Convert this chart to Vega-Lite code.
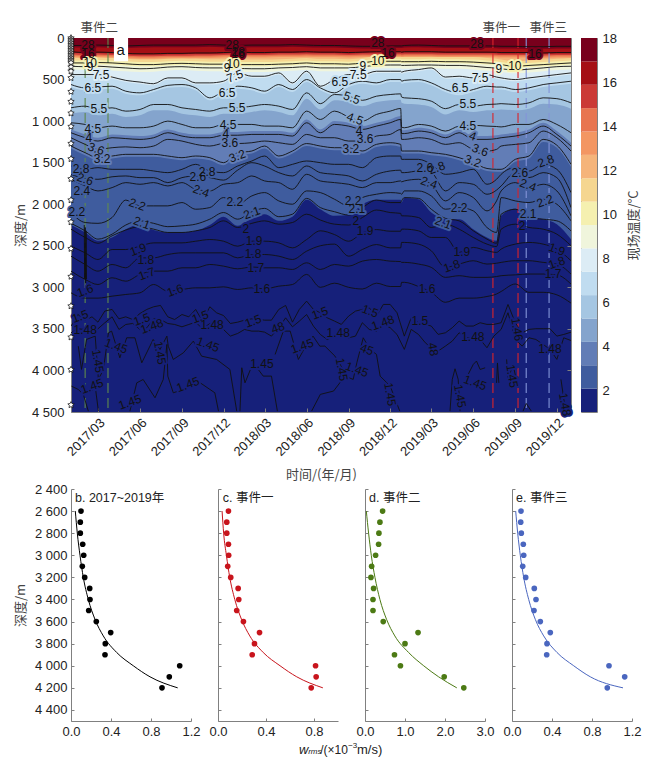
{
"$schema":"https://vega.github.io/schema/vega-lite/v6.json",
"background":"white",
"padding":{"left":13,"top":21,"right":5,"bottom":5},
"config":{"font":"Liberation Sans, Noto Sans CJK SC","view":{"stroke":null},"axis":{"grid":false,"labelFlush":false,"labelOverlap":false,"domainColor":"#808080","tickColor":"#808080","labelColor":"#222222","titleColor":"#444444","labelFontSize":13,"titleFontSize":13,"titleFontWeight":"normal","labelFont":"Liberation Sans","titleFont":"Noto Sans CJK SC"},"text":{"font":"Liberation Sans, Noto Sans CJK SC"}},
"datasets":{
"isotherms":[
{"d":"2017-01-01","w18":90,"w16":165,"w10":300,"w9":340,"w75":440,"w65":560,"w55":840,"w45":1020,"w40":1140,"w36":1200,"w32":1300,"w28":1540,"w26":1640,"w24":1700,"w22":2100,"w21":2230,"w20":2300,"c19":2505,"c18":2625,"c17":2805,"c16":3066},
{"d":"2017-02-01","w18":90,"w16":175,"w10":300,"w9":345,"w75":440,"w65":600,"w55":820,"w45":1040,"w40":1200,"w36":1280,"w32":1380,"w28":1580,"w26":1690,"w24":1780,"w22":2220,"w21":2320,"w20":2400,"c19":2585,"c18":2725,"c17":2905,"c16":3130},
{"d":"2017-03-01","w18":85,"w16":170,"w10":295,"w9":340,"w75":440,"w65":590,"w55":860,"w45":1080,"w40":1240,"w36":1340,"w32":1440,"w28":1560,"w26":1700,"w24":1840,"w22":2230,"w21":2420,"w20":2470,"c19":2665,"c18":2805,"c17":2966,"c16":3130},
{"d":"2017-04-01","w18":90,"w16":175,"w10":300,"w9":350,"w75":470,"w65":580,"w55":840,"w45":1060,"w40":1200,"w36":1320,"w32":1420,"w28":1580,"w26":1670,"w24":1800,"w22":2160,"w21":2360,"w20":2380,"c19":2545,"c18":2725,"c17":2885,"c16":3106},
{"d":"2017-05-01","w18":95,"w16":185,"w10":310,"w9":360,"w75":510,"w65":640,"w55":880,"w45":1080,"w40":1210,"w36":1310,"w32":1400,"w28":1580,"w26":1660,"w24":1740,"w22":1950,"w21":2250,"w20":2310,"c19":2545,"c18":2765,"c17":2926,"c16":3086},
{"d":"2017-06-01","w18":90,"w16":190,"w10":320,"w9":370,"w75":530,"w65":660,"w55":860,"w45":1080,"w40":1220,"w36":1320,"w32":1400,"w28":1580,"w26":1680,"w24":1760,"w22":2020,"w21":2200,"w20":2270,"c19":2505,"c18":2645,"c17":2845,"c16":3066},
{"d":"2017-07-01","w18":85,"w16":190,"w10":320,"w9":365,"w75":550,"w65":620,"w55":800,"w45":1060,"w40":1200,"w36":1300,"w32":1400,"w28":1600,"w26":1680,"w24":1740,"w22":2020,"w21":2230,"w20":2300,"c19":2465,"c18":2645,"c17":2805,"c16":2966},
{"d":"2017-08-01","w18":85,"w16":185,"w10":310,"w9":350,"w75":480,"w65":570,"w55":800,"w45":1000,"w40":1140,"w36":1220,"w32":1420,"w28":1620,"w26":1740,"w24":1780,"w22":2020,"w21":2270,"w20":2340,"c19":2465,"c18":2605,"c17":2805,"c16":3046},
{"d":"2017-09-01","w18":85,"w16":185,"w10":305,"w9":345,"w75":480,"w65":560,"w55":840,"w45":1040,"w40":1180,"w36":1240,"w32":1440,"w28":1580,"w26":1680,"w24":1740,"w22":1980,"w21":2260,"w20":2340,"c19":2465,"c18":2585,"c17":2765,"c16":3026},
{"d":"2017-10-01","w18":85,"w16":180,"w10":310,"w9":355,"w75":540,"w65":600,"w55":860,"w45":1080,"w40":1200,"w36":1280,"w32":1420,"w28":1520,"w26":1660,"w24":1820,"w22":2060,"w21":2240,"w20":2320,"c19":2445,"c18":2585,"c17":2765,"c16":3006},
{"d":"2017-11-01","w18":80,"w16":180,"w10":315,"w9":360,"w75":540,"w65":720,"w55":880,"w45":1080,"w40":1200,"w36":1300,"w32":1440,"w28":1600,"w26":1680,"w24":1840,"w22":2040,"w21":2180,"w20":2280,"c19":2425,"c18":2585,"c17":2725,"c16":3006},
{"d":"2017-12-01","w18":85,"w16":175,"w10":315,"w9":360,"w75":520,"w65":640,"w55":840,"w45":1040,"w40":1170,"w36":1270,"w32":1500,"w28":1620,"w26":1710,"w24":1760,"w22":1920,"w21":2100,"w20":2200,"c19":2445,"c18":2585,"c17":2745,"c16":2994},
{"d":"2018-01-01","w18":90,"w16":170,"w10":320,"w9":365,"w75":420,"w65":580,"w55":840,"w45":1040,"w40":1170,"w36":1270,"w32":1380,"w28":1540,"w26":1590,"w24":1740,"w22":2000,"w21":2180,"w20":2280,"c19":2505,"c18":2645,"c17":2777,"c16":3026},
{"d":"2018-02-01","w18":85,"w16":175,"w10":320,"w9":370,"w75":460,"w65":600,"w55":820,"w45":1040,"w40":1160,"w36":1260,"w32":1360,"w28":1480,"w26":1500,"w24":1660,"w22":1900,"w21":2090,"w20":2230,"c19":2445,"c18":2605,"c17":2755,"c16":3006},
{"d":"2018-03-01","w18":85,"w16":175,"w10":320,"w9":370,"w75":460,"w65":640,"w55":800,"w45":1060,"w40":1160,"w36":1240,"w32":1300,"w28":1420,"w26":1540,"w24":1720,"w22":1860,"w21":2050,"w20":2200,"c19":2445,"c18":2605,"c17":2765,"c16":3018},
{"d":"2018-04-01","w18":85,"w16":170,"w10":315,"w9":360,"w75":420,"w65":560,"w55":820,"w45":1060,"w40":1160,"w36":1260,"w32":1420,"w28":1560,"w26":1620,"w24":1740,"w22":1960,"w21":2150,"w20":2240,"c19":2465,"c18":2625,"c17":2765,"c16":2986},
{"d":"2018-05-01","w18":80,"w16":170,"w10":310,"w9":355,"w75":540,"w65":620,"w55":860,"w45":1080,"w40":1180,"w36":1280,"w32":1360,"w28":1520,"w26":1660,"w24":1820,"w22":2000,"w21":2120,"w20":2220,"c19":2525,"c18":2665,"c17":2785,"c16":2966},
{"d":"2018-06-01","w18":85,"w16":165,"w10":300,"w9":345,"w75":400,"w65":500,"w55":660,"w45":880,"w40":1020,"w36":1160,"w32":1270,"w28":1480,"w26":1540,"w24":1640,"w22":1840,"w21":1930,"w20":2120,"c19":2425,"c18":2565,"c17":2705,"c16":2845},
{"d":"2018-07-01","w18":90,"w16":170,"w10":310,"w9":360,"w75":580,"w65":600,"w55":790,"w45":980,"w40":1140,"w36":1200,"w32":1300,"w28":1500,"w26":1620,"w24":1720,"w22":1860,"w21":2040,"w20":2190,"c19":2320,"c18":2500,"c17":2785,"c16":3000},
{"d":"2018-08-01","w18":90,"w16":170,"w10":310,"w9":360,"w75":500,"w65":660,"w55":680,"w45":880,"w40":1040,"w36":1200,"w32":1320,"w28":1520,"w26":1640,"w24":1740,"w22":1940,"w21":2090,"w20":2240,"c19":2365,"c18":2480,"c17":2725,"c16":2950},
{"d":"2018-09-01","w18":95,"w16":175,"w10":315,"w9":360,"w75":440,"w65":560,"w55":700,"w45":950,"w40":1060,"w36":1240,"w32":1320,"w28":1520,"w26":1660,"w24":1760,"w22":2020,"w21":2130,"w20":2250,"c19":2445,"c18":2625,"c17":2745,"c16":3000},
{"d":"2018-10-01","w18":100,"w16":170,"w10":300,"w9":345,"w75":440,"w65":520,"w55":750,"w45":1000,"w40":1100,"w36":1240,"w32":1360,"w28":1560,"w26":1720,"w24":1800,"w22":1920,"w21":2040,"w20":2160,"c19":2345,"c18":2545,"c17":2685,"c16":3020},
{"d":"2018-11-01","w18":100,"w16":165,"w10":280,"w9":330,"w75":400,"w65":540,"w55":700,"w45":920,"w40":1060,"w36":1180,"w32":1280,"w28":1440,"w26":1640,"w24":1740,"w22":1880,"w21":1950,"w20":2070,"c19":2305,"c18":2485,"c17":2665,"c16":2950},
{"d":"2018-12-01","w18":95,"w16":165,"w10":280,"w9":325,"w75":400,"w65":500,"w55":680,"w45":880,"w40":1020,"w36":1160,"w32":1260,"w28":1420,"w26":1600,"w24":1740,"w22":1860,"w21":1980,"w20":2100,"c19":2325,"c18":2525,"c17":2685,"c16":2990},
{"d":"2018-12-24","w18":95,"w16":165,"w10":280,"w9":325,"w75":400,"w65":500,"w55":672,"w45":848,"w40":980,"w36":1100,"w32":1280,"w28":1420,"w26":1590,"w24":1720,"w22":1870,"w21":1980,"w20":2110,"c19":2325,"c18":2525,"c17":2690,"c16":2990},
{"d":"2018-12-26","w18":95,"w16":170,"w10":285,"w9":330,"w75":410,"w65":520,"w55":710,"w45":1072,"w40":1150,"w36":1220,"w32":1360,"w28":1460,"w26":1620,"w24":1730,"w22":1880,"w21":1960,"w20":2140,"c19":2300,"c18":2460,"c17":2700,"c16":2940},
{"d":"2019-01-01","w18":90,"w16":165,"w10":285,"w9":330,"w75":400,"w65":510,"w55":720,"w45":1080,"w40":1150,"w36":1220,"w32":1360,"w28":1460,"w26":1620,"w24":1720,"w22":1840,"w21":1920,"w20":2140,"c19":2300,"c18":2460,"c17":2700,"c16":2940},
{"d":"2019-02-01","w18":85,"w16":165,"w10":285,"w9":325,"w75":380,"w65":500,"w55":730,"w45":1040,"w40":1120,"w36":1200,"w32":1360,"w28":1460,"w26":1600,"w24":1700,"w22":1840,"w21":1930,"w20":2160,"c19":2320,"c18":2480,"c17":2720,"c16":2990},
{"d":"2019-03-01","w18":90,"w16":165,"w10":280,"w9":325,"w75":360,"w65":540,"w55":760,"w45":1060,"w40":1140,"w36":1220,"w32":1380,"w28":1520,"w26":1620,"w24":1760,"w22":1900,"w21":2060,"w20":2280,"c19":2400,"c18":2560,"c17":2760,"c16":3060},
{"d":"2019-04-01","w18":95,"w16":170,"w10":285,"w9":330,"w75":470,"w65":620,"w55":850,"w45":1120,"w40":1200,"w36":1280,"w32":1400,"w28":1640,"w26":1840,"w24":1960,"w22":2060,"w21":2170,"w20":2240,"c19":2400,"c18":2760,"c17":2880,"c16":3180},
{"d":"2019-05-01","w18":95,"w16":170,"w10":285,"w9":330,"w75":460,"w65":660,"w55":800,"w45":1060,"w40":1140,"w36":1260,"w32":1440,"w28":1620,"w26":1740,"w24":1860,"w22":2040,"w21":2200,"w20":2300,"c19":2580,"c18":2720,"c17":2860,"c16":3130},
{"d":"2019-06-01","w18":95,"w16":170,"w10":290,"w9":340,"w75":480,"w65":620,"w55":820,"w45":1050,"w40":1220,"w36":1340,"w32":1500,"w28":1580,"w26":1760,"w24":1920,"w22":2080,"w21":2320,"w20":2400,"c19":2520,"c18":2680,"c17":2880,"c16":3130},
{"d":"2019-07-01","w18":95,"w16":170,"w10":300,"w9":355,"w75":440,"w65":580,"w55":800,"w45":1060,"w40":1220,"w36":1360,"w32":1570,"w28":1760,"w26":1880,"w24":2080,"w22":2280,"w21":2420,"w20":2480,"c19":2560,"c18":2720,"c17":2880,"c16":3110},
{"d":"2019-07-22","w18":97,"w16":172,"w10":310,"w9":362,"w75":470,"w65":590,"w55":795,"w45":1065,"w40":1210,"w36":1340,"w32":1580,"w28":1700,"w26":1830,"w24":1960,"w22":2340,"w21":2470,"w20":2510,"c19":2580,"c18":2710,"c17":2870,"c16":3080},
{"d":"2019-08-01","w18":100,"w16":175,"w10":320,"w9":370,"w75":480,"w65":590,"w55":790,"w45":1070,"w40":1200,"w36":1300,"w32":1580,"w28":1640,"w26":1780,"w24":1840,"w22":1920,"w21":2120,"w20":2300,"c19":2540,"c18":2700,"c17":2860,"c16":3050},
{"d":"2019-09-01","w18":100,"w16":175,"w10":340,"w9":385,"w75":500,"w65":620,"w55":800,"w45":1040,"w40":1180,"w36":1280,"w32":1460,"w28":1560,"w26":1620,"w24":1740,"w22":1960,"w21":2060,"w20":2240,"c19":2480,"c18":2680,"c17":2850,"c16":2960},
{"d":"2019-10-01","w18":105,"w16":175,"w10":330,"w9":375,"w75":480,"w65":600,"w55":780,"w45":1040,"w40":1140,"w36":1260,"w32":1420,"w28":1600,"w26":1680,"w24":1800,"w22":1980,"w21":2160,"w20":2280,"c19":2460,"c18":2680,"c17":2840,"c16":3060},
{"d":"2019-11-01","w18":105,"w16":180,"w10":320,"w9":360,"w75":460,"w65":560,"w55":720,"w45":980,"w40":1060,"w36":1120,"w32":1220,"w28":1520,"w26":1620,"w24":1760,"w22":1940,"w21":2180,"w20":2300,"c19":2480,"c18":2700,"c17":2840,"c16":3060},
{"d":"2019-12-01","w18":100,"w16":175,"w10":310,"w9":345,"w75":440,"w65":540,"w55":730,"w45":1040,"w40":1160,"w36":1200,"w32":1290,"w28":1580,"w26":1680,"w24":1840,"w22":2000,"w21":2200,"w20":2360,"c19":2540,"c18":2720,"c17":2850,"c16":3090},
{"d":"2020-01-01","w18":100,"w16":175,"w10":300,"w9":340,"w75":420,"w65":520,"w55":780,"w45":1140,"w40":1300,"w36":1360,"w32":1520,"w28":1860,"w26":2040,"w24":2140,"w22":2200,"w21":2320,"w20":2500,"c19":2680,"c18":2840,"c17":2960,"c16":3190}
],
"bands":[
{"d":"2017-01-01","b2":2250,"b3":1330,"b4":1100,"b5":910,"b6":590,"b7":460,"b8":380,"b9":320,"b10":270,"b11":240,"b12":225,"b13":210,"b14":195,"b15":175,"b16":115},
{"d":"2017-02-01","b2":2340,"b3":1410,"b4":1160,"b5":890,"b6":630,"b7":460,"b8":385,"b9":320,"b10":270,"b11":240,"b12":235,"b13":220,"b14":205,"b15":185,"b16":115},
{"d":"2017-03-01","b2":2440,"b3":1470,"b4":1200,"b5":930,"b6":620,"b7":460,"b8":380,"b9":315,"b10":265,"b11":235,"b12":230,"b13":215,"b14":200,"b15":180,"b16":110},
{"d":"2017-04-01","b2":2400,"b3":1450,"b4":1160,"b5":910,"b6":610,"b7":490,"b8":390,"b9":320,"b10":270,"b11":240,"b12":235,"b13":220,"b14":205,"b15":185,"b16":115},
{"d":"2017-05-01","b2":2300,"b3":1430,"b4":1170,"b5":950,"b6":670,"b7":530,"b8":400,"b9":330,"b10":280,"b11":250,"b12":245,"b13":230,"b14":215,"b15":195,"b16":120},
{"d":"2017-06-01","b2":2240,"b3":1430,"b4":1180,"b5":930,"b6":690,"b7":550,"b8":410,"b9":340,"b10":290,"b11":260,"b12":250,"b13":235,"b14":220,"b15":200,"b16":115},
{"d":"2017-07-01","b2":2310,"b3":1430,"b4":1160,"b5":870,"b6":650,"b7":570,"b8":405,"b9":340,"b10":290,"b11":260,"b12":250,"b13":235,"b14":220,"b15":200,"b16":110},
{"d":"2017-08-01","b2":2340,"b3":1450,"b4":1100,"b5":870,"b6":600,"b7":500,"b8":390,"b9":330,"b10":280,"b11":250,"b12":245,"b13":230,"b14":215,"b15":195,"b16":110},
{"d":"2017-09-01","b2":2340,"b3":1470,"b4":1140,"b5":910,"b6":590,"b7":500,"b8":385,"b9":325,"b10":275,"b11":245,"b12":245,"b13":230,"b14":215,"b15":195,"b16":110},
{"d":"2017-10-01","b2":2320,"b3":1450,"b4":1160,"b5":930,"b6":630,"b7":560,"b8":395,"b9":330,"b10":280,"b11":250,"b12":240,"b13":225,"b14":210,"b15":190,"b16":110},
{"d":"2017-11-01","b2":2250,"b3":1470,"b4":1160,"b5":950,"b6":750,"b7":560,"b8":400,"b9":335,"b10":285,"b11":255,"b12":240,"b13":225,"b14":210,"b15":190,"b16":105},
{"d":"2017-12-01","b2":2150,"b3":1530,"b4":1130,"b5":910,"b6":670,"b7":540,"b8":400,"b9":335,"b10":285,"b11":255,"b12":235,"b13":220,"b14":205,"b15":185,"b16":110},
{"d":"2018-01-01","b2":2260,"b3":1410,"b4":1130,"b5":910,"b6":610,"b7":440,"b8":405,"b9":340,"b10":290,"b11":260,"b12":230,"b13":215,"b14":200,"b15":180,"b16":115},
{"d":"2018-02-01","b2":2170,"b3":1390,"b4":1120,"b5":890,"b6":630,"b7":480,"b8":410,"b9":340,"b10":290,"b11":260,"b12":235,"b13":220,"b14":205,"b15":185,"b16":110},
{"d":"2018-03-01","b2":2120,"b3":1330,"b4":1120,"b5":870,"b6":670,"b7":480,"b8":410,"b9":340,"b10":290,"b11":260,"b12":235,"b13":220,"b14":205,"b15":185,"b16":110},
{"d":"2018-04-01","b2":2200,"b3":1450,"b4":1120,"b5":890,"b6":590,"b7":440,"b8":400,"b9":335,"b10":285,"b11":255,"b12":230,"b13":215,"b14":200,"b15":180,"b16":110},
{"d":"2018-05-01","b2":2150,"b3":1390,"b4":1140,"b5":930,"b6":650,"b7":560,"b8":395,"b9":330,"b10":280,"b11":250,"b12":230,"b13":215,"b14":200,"b15":180,"b16":105},
{"d":"2018-06-01","b2":1945,"b3":1300,"b4":980,"b5":730,"b6":530,"b7":420,"b8":385,"b9":320,"b10":270,"b11":240,"b12":225,"b13":210,"b14":195,"b15":175,"b16":110},
{"d":"2018-07-01","b2":2060,"b3":1330,"b4":1100,"b5":860,"b6":630,"b7":600,"b8":400,"b9":330,"b10":280,"b11":250,"b12":230,"b13":215,"b14":200,"b15":180,"b16":115},
{"d":"2018-08-01","b2":2140,"b3":1350,"b4":1000,"b5":750,"b6":690,"b7":520,"b8":400,"b9":330,"b10":280,"b11":250,"b12":230,"b13":215,"b14":200,"b15":180,"b16":115},
{"d":"2018-09-01","b2":2130,"b3":1350,"b4":1020,"b5":770,"b6":590,"b7":460,"b8":400,"b9":335,"b10":285,"b11":255,"b12":235,"b13":220,"b14":205,"b15":185,"b16":120},
{"d":"2018-10-01","b2":2000,"b3":1390,"b4":1060,"b5":820,"b6":550,"b7":460,"b8":385,"b9":320,"b10":270,"b11":240,"b12":230,"b13":215,"b14":200,"b15":180,"b16":125},
{"d":"2018-11-01","b2":1945,"b3":1310,"b4":1020,"b5":770,"b6":570,"b7":420,"b8":370,"b9":300,"b10":250,"b11":220,"b12":225,"b13":210,"b14":195,"b15":175,"b16":125},
{"d":"2018-12-01","b2":1945,"b3":1290,"b4":980,"b5":750,"b6":530,"b7":420,"b8":365,"b9":300,"b10":250,"b11":220,"b12":225,"b13":210,"b14":195,"b15":175,"b16":120},
{"d":"2018-12-24","b2":1945,"b3":1310,"b4":940,"b5":742,"b6":530,"b7":420,"b8":365,"b9":300,"b10":250,"b11":220,"b12":225,"b13":210,"b14":195,"b15":175,"b16":120},
{"d":"2018-12-26","b2":1980,"b3":1390,"b4":1110,"b5":780,"b6":550,"b7":430,"b8":370,"b9":305,"b10":255,"b11":225,"b12":230,"b13":215,"b14":200,"b15":180,"b16":120},
{"d":"2019-01-01","b2":1925,"b3":1390,"b4":1110,"b5":790,"b6":540,"b7":420,"b8":370,"b9":305,"b10":255,"b11":225,"b12":225,"b13":210,"b14":195,"b15":175,"b16":115},
{"d":"2019-02-01","b2":1940,"b3":1390,"b4":1080,"b5":800,"b6":530,"b7":400,"b8":365,"b9":305,"b10":255,"b11":225,"b12":225,"b13":210,"b14":195,"b15":175,"b16":110},
{"d":"2019-03-01","b2":2100,"b3":1410,"b4":1100,"b5":830,"b6":570,"b7":380,"b8":365,"b9":300,"b10":250,"b11":220,"b12":225,"b13":210,"b14":195,"b15":175,"b16":115},
{"d":"2019-04-01","b2":2180,"b3":1430,"b4":1160,"b5":920,"b6":650,"b7":490,"b8":370,"b9":305,"b10":255,"b11":225,"b12":230,"b13":215,"b14":200,"b15":180,"b16":120},
{"d":"2019-05-01","b2":2180,"b3":1470,"b4":1100,"b5":870,"b6":690,"b7":480,"b8":370,"b9":305,"b10":255,"b11":225,"b12":230,"b13":215,"b14":200,"b15":180,"b16":120},
{"d":"2019-06-01","b2":2300,"b3":1530,"b4":1180,"b5":890,"b6":650,"b7":500,"b8":380,"b9":310,"b10":260,"b11":230,"b12":230,"b13":215,"b14":200,"b15":180,"b16":120},
{"d":"2019-07-01","b2":2400,"b3":1600,"b4":1180,"b5":870,"b6":610,"b7":460,"b8":395,"b9":320,"b10":270,"b11":240,"b12":230,"b13":215,"b14":200,"b15":180,"b16":120},
{"d":"2019-07-22","b2":2440,"b3":1610,"b4":1170,"b5":865,"b6":620,"b7":490,"b8":400,"b9":330,"b10":280,"b11":250,"b12":232,"b13":217,"b14":202,"b15":182,"b16":122},
{"d":"2019-08-01","b2":2140,"b3":1610,"b4":1160,"b5":860,"b6":620,"b7":500,"b8":410,"b9":340,"b10":290,"b11":260,"b12":235,"b13":220,"b14":205,"b15":185,"b16":125},
{"d":"2019-09-01","b2":2055,"b3":1490,"b4":1140,"b5":870,"b6":650,"b7":520,"b8":425,"b9":360,"b10":310,"b11":280,"b12":235,"b13":220,"b14":205,"b15":185,"b16":125},
{"d":"2019-10-01","b2":2160,"b3":1450,"b4":1100,"b5":850,"b6":630,"b7":500,"b8":415,"b9":350,"b10":300,"b11":270,"b12":235,"b13":220,"b14":205,"b15":185,"b16":130},
{"d":"2019-11-01","b2":2180,"b3":1250,"b4":1020,"b5":790,"b6":590,"b7":480,"b8":400,"b9":340,"b10":290,"b11":260,"b12":240,"b13":225,"b14":210,"b15":190,"b16":130},
{"d":"2019-12-01","b2":2240,"b3":1320,"b4":1120,"b5":800,"b6":570,"b7":460,"b8":385,"b9":330,"b10":280,"b11":250,"b12":235,"b13":220,"b14":205,"b15":185,"b16":125},
{"d":"2020-01-01","b2":2420,"b3":1550,"b4":1260,"b5":850,"b6":550,"b7":440,"b8":380,"b9":320,"b10":270,"b11":240,"b12":235,"b13":220,"b14":205,"b15":185,"b16":125}
],
"deep":[
{"d":"2017-01-01","c15":3467,"c148":3547},{"d":"2017-01-16","c15":3327,"c148":3499},{"d":"2017-02-01","c15":3395,"c148":3507},{"d":"2017-02-16","c15":3355,"c148":3527},{"d":"2017-03-01","c15":3419,"c148":3499},{"d":"2017-03-16","c15":3286,"c148":3427},{"d":"2017-04-01","c15":3266,"c148":3355},{"d":"2017-04-16","c15":3379,"c148":3507},{"d":"2017-05-01","c15":3355,"c148":3447},{"d":"2017-05-16","c15":3387,"c148":3435},{"d":"2017-06-01","c15":3315,"c148":3507},{"d":"2017-06-16","c15":3266,"c148":3487},{"d":"2017-07-01","c15":3234,"c148":3379},{"d":"2017-07-16","c15":3218,"c148":3387},{"d":"2017-08-01","c15":3355,"c148":3435},{"d":"2017-08-16","c15":3387,"c148":3447},{"d":"2017-09-01","c15":3327,"c148":3475},{"d":"2017-09-16","c15":3355,"c148":3447},{"d":"2017-10-01","c15":3266,"c148":3419},{"d":"2017-10-16","c15":3407,"c148":3499},{"d":"2017-11-01","c15":3234,"c148":3435},{"d":"2017-11-16","c15":3307,"c148":3435},{"d":"2017-12-01","c15":3339,"c148":3507},{"d":"2017-12-16","c15":3435,"c148":3587},{"d":"2018-01-01","c15":3419,"c148":3555},{"d":"2018-01-16","c15":3395,"c148":3507},{"d":"2018-02-01","c15":3379,"c148":3527},{"d":"2018-02-16","c15":3387,"c148":3527},{"d":"2018-03-01","c15":3395,"c148":3539},{"d":"2018-03-16","c15":3395,"c148":3587},{"d":"2018-04-01","c15":3266,"c148":3487},{"d":"2018-04-16","c15":3218,"c148":3367},{"d":"2018-05-01","c15":3419,"c148":3475},{"d":"2018-05-16","c15":3266,"c148":3407},{"d":"2018-06-01","c15":3166,"c148":3327},{"d":"2018-06-16","c15":3266,"c148":3467},
{"d":"2018-07-01","c15":3306,"c148":3567},{"d":"2018-07-16","c15":3366,"c148":3627},{"d":"2018-08-01","c15":3406,"c148":3587},{"d":"2018-08-16","c15":3446,"c148":3567},{"d":"2018-09-01","c15":3346,"c148":3607},{"d":"2018-09-16","c15":3286,"c148":3587},{"d":"2018-10-01","c15":3266,"c148":3426},{"d":"2018-10-16","c15":3246,"c148":3506},{"d":"2018-11-01","c15":3346,"c148":3527},{"d":"2018-11-16","c15":3206,"c148":3446},{"d":"2018-12-01","c15":3206,"c148":3486},{"d":"2018-12-16","c15":3306,"c148":3567},{"d":"2019-01-01","c15":3587,"c148":3747},{"d":"2019-01-16","c15":3366,"c148":3506},{"d":"2019-02-01","c15":3426,"c148":3567},{"d":"2019-02-16","c15":3446,"c148":3667},{"d":"2019-03-01","c15":3466,"c148":3727},{"d":"2019-03-16","c15":3566,"c148":3767},{"d":"2019-04-01","c15":3547,"c148":3707},{"d":"2019-04-16","c15":3486,"c148":3647},{"d":"2019-05-01","c15":3406,"c148":3547},{"d":"2019-05-16","c15":3466,"c148":3607},{"d":"2019-06-01","c15":3466,"c148":3607},{"d":"2019-06-16","c15":3426,"c148":3627},{"d":"2019-07-01","c15":3446,"c148":3727},{"d":"2019-07-16","c15":3446,"c148":3587},{"d":"2019-08-01","c15":3426,"c148":3506},{"d":"2019-08-16","c15":3206,"c148":3306},{"d":"2019-09-01","c15":3426,"c148":3627},{"d":"2019-09-16","c15":3547,"c148":3707},{"d":"2019-10-01","c15":3506,"c148":3607},{"d":"2019-10-16","c15":3498,"c148":3627},{"d":"2019-11-01","c15":3498,"c148":3687},{"d":"2019-11-16","c15":3498,"c148":3747},{"d":"2019-12-01","c15":3587,"c148":3867},{"d":"2019-12-16","c15":3567,"c148":3607},{"d":"2020-01-01","c15":3540,"c148":3640}
],
"deepest":[
{"seg":"a","d":"2017-01-17","z":3708},{"seg":"a","d":"2017-01-24","z":3988},{"seg":"a","d":"2017-02-04","z":3627},{"seg":"a","d":"2017-02-23","z":3587},{"seg":"a","d":"2017-03-02","z":4109},{"seg":"a","d":"2017-03-13","z":3988},{"seg":"a","d":"2017-03-24","z":3547},{"seg":"a","d":"2017-03-31","z":3527},{"seg":"a","d":"2017-04-18","z":3848},{"seg":"a","d":"2017-05-03","z":3607},{"seg":"a","d":"2017-05-21","z":3607},{"seg":"a","d":"2017-06-05","z":3908},{"seg":"a","d":"2017-06-30","z":3627},{"seg":"a","d":"2017-07-15","z":3748},{"seg":"a","d":"2017-07-30","z":3587},{"seg":"a","d":"2017-08-02","z":3708},{"seg":"a","d":"2017-08-13","z":3868},{"seg":"a","d":"2017-09-04","z":3788},{"seg":"a","d":"2017-09-26","z":3647},{"seg":"a","d":"2017-10-14","z":3828},{"seg":"a","d":"2017-11-16","z":3868},{"seg":"a","d":"2017-12-15","z":3988},{"seg":"a","d":"2017-12-30","z":4490},
{"seg":"b","d":"2018-01-06","z":4490},{"seg":"b","d":"2018-01-10","z":3968},{"seg":"b","d":"2018-01-17","z":4149},{"seg":"b","d":"2018-02-04","z":3908},{"seg":"b","d":"2018-02-26","z":4068},{"seg":"b","d":"2018-03-16","z":4068},{"seg":"b","d":"2018-03-29","z":4490},
{"seg":"c","d":"2018-03-24","z":3808},{"seg":"c","d":"2018-04-11","z":3527},{"seg":"c","d":"2018-04-26","z":3527},{"seg":"c","d":"2018-05-14","z":3868},{"seg":"c","d":"2018-06-01","z":3687},{"seg":"c","d":"2018-06-15","z":3587},{"seg":"c","d":"2018-06-30","z":3708},{"seg":"c","d":"2018-07-11","z":3707},{"seg":"c","d":"2018-08-02","z":3827},{"seg":"c","d":"2018-08-20","z":3988},
{"seg":"d","d":"2018-06-12","z":4489},{"seg":"d","d":"2018-07-01","z":4288},{"seg":"d","d":"2018-07-30","z":4248},{"seg":"d","d":"2018-08-24","z":4068},{"seg":"d","d":"2018-09-11","z":4108},{"seg":"d","d":"2018-09-19","z":3907},{"seg":"d","d":"2018-10-03","z":3607},{"seg":"d","d":"2018-10-18","z":3747},{"seg":"d","d":"2018-11-01","z":3807},{"seg":"d","d":"2018-11-09","z":4068},{"seg":"d","d":"2018-12-01","z":4188},{"seg":"d","d":"2018-12-15","z":4389},{"seg":"d","d":"2018-12-22","z":4489},
{"seg":"e","d":"2019-04-11","z":4489},{"seg":"e","d":"2019-04-16","z":4108},{"seg":"e","d":"2019-04-22","z":3980},{"seg":"e","d":"2019-04-29","z":4108},{"seg":"e","d":"2019-05-03","z":4489},
{"seg":"f","d":"2019-05-17","z":4088},{"seg":"f","d":"2019-06-01","z":3927},{"seg":"f","d":"2019-06-08","z":3887},{"seg":"f","d":"2019-06-16","z":3988},{"seg":"f","d":"2019-06-27","z":3968},
{"seg":"g","d":"2019-07-22","z":4150},{"seg":"g","d":"2019-07-24","z":3910},{"seg":"g","d":"2019-07-27","z":4150},
{"seg":"h","d":"2019-08-13","z":3867},{"seg":"h","d":"2019-08-16","z":4108},{"seg":"h","d":"2019-08-27","z":3927},{"seg":"h","d":"2019-09-03","z":4108},
{"seg":"i","d":"2019-09-18","z":4489},{"seg":"i","d":"2019-09-25","z":4397},{"seg":"i","d":"2019-10-06","z":4489},
{"seg":"j","d":"2019-12-10","z":4108},{"seg":"j","d":"2019-12-20","z":4489},
{"seg":"k","d":"2017-01-02","z":4189},{"seg":"k","d":"2017-01-17","z":4229},{"seg":"k","d":"2017-01-28","z":4289},{"seg":"k","d":"2017-02-08","z":4490},
{"seg":"l","d":"2017-02-12","z":4269},{"seg":"l","d":"2017-02-23","z":4189},{"seg":"l","d":"2017-03-02","z":4490},
{"seg":"m","d":"2017-05-10","z":4490},{"seg":"m","d":"2017-05-25","z":4149},{"seg":"m","d":"2017-06-08","z":4109},{"seg":"m","d":"2017-07-04","z":4329},{"seg":"m","d":"2017-07-22","z":4109},{"seg":"m","d":"2017-07-30","z":3687},{"seg":"m","d":"2017-08-01","z":4068},{"seg":"m","d":"2017-08-13","z":4269},{"seg":"m","d":"2017-09-04","z":4229},{"seg":"m","d":"2017-10-11","z":4149},{"seg":"m","d":"2017-11-12","z":4269},{"seg":"m","d":"2017-11-20","z":4490},
{"seg":"n","d":"2017-01-30","z":2250},{"seg":"n","d":"2017-01-31","z":2900},{"seg":"n","d":"2017-02-01","z":2280},{"seg":"n","d":"2017-02-02","z":2950},{"seg":"n","d":"2017-02-03","z":2320},{"seg":"n","d":"2017-02-04","z":2900}
],
"labels":[
{"d":"2017-02-07","z":90,"t":18,"text":"28","tilt":"flat"},{"d":"2017-02-07","z":190,"t":17.5,"text":"16","tilt":"flat"},{"d":"2017-02-12","z":298,"t":10,"text":"10","tilt":"flat"},{"d":"2017-02-12","z":347,"t":9,"text":"9","tilt":"flat"},{"d":"2017-03-08","z":450,"t":7.5,"text":"7.5","tilt":"flat"},{"d":"2017-02-18","z":600,"t":6.5,"text":"6.5","tilt":"flat"},{"d":"2017-03-03","z":850,"t":5.5,"text":"5.5","tilt":"flat"},{"d":"2017-02-18","z":1090,"t":4.5,"text":"4.5","tilt":"flat"},{"d":"2017-02-09","z":1200,"t":4,"text":"4","tilt":"flat"},{"d":"2017-02-25","z":1333,"t":3.6,"text":"3.6","tilt":"down"},{"d":"2017-03-10","z":1460,"t":3.2,"text":"3.2","tilt":"flat"},{"d":"2017-01-23","z":1574,"t":2.8,"text":"2.8","tilt":"flat"},{"d":"2017-02-01","z":1700,"t":2.6,"text":"2.6","tilt":"down"},{"d":"2017-01-25","z":1843,"t":2.4,"text":"2.4","tilt":"flat"},{"d":"2017-01-14","z":2095,"t":2.2,"text":"2.2","tilt":"flat"},{"d":"2017-02-01","z":3040,"t":1.6,"text":"1.6","tilt":"up"},{"d":"2017-01-21","z":3350,"t":1.5,"text":"1.5","tilt":"up"},{"d":"2017-02-01","z":3510,"t":1.48,"text":"1.48","tilt":"flat"},{"d":"2017-03-01","z":3888,"t":1.45,"text":"1.45","tilt":"vert"},{"d":"2017-02-16","z":4190,"t":1.45,"text":"1.45","tilt":"up"},
{"d":"2017-12-20","z":90,"t":18,"text":"28","tilt":"flat"},{"d":"2018-01-02","z":170,"t":18,"text":"28","tilt":"flat"},{"d":"2018-01-02","z":195,"t":17.5,"text":"16","tilt":"flat"},{"d":"2017-12-22","z":307,"t":10,"text":"10","tilt":"flat"},{"d":"2017-12-09","z":359,"t":9,"text":"9","tilt":"flat"},{"d":"2017-12-26","z":459,"t":7.5,"text":"7.5","tilt":"up"},{"d":"2017-12-09","z":660,"t":6.5,"text":"6.5","tilt":"flat"},{"d":"2017-12-31","z":840,"t":5.5,"text":"5.5","tilt":"flat"},{"d":"2017-12-11","z":1048,"t":4.5,"text":"4.5","tilt":"flat"},{"d":"2017-12-06","z":1160,"t":4,"text":"4","tilt":"flat"},{"d":"2017-12-15","z":1269,"t":3.6,"text":"3.6","tilt":"flat"},{"d":"2017-12-31","z":1421,"t":3.2,"text":"3.2","tilt":"up"},{"d":"2017-10-26","z":1610,"t":2.8,"text":"2.8","tilt":"flat"},{"d":"2017-10-06","z":1674,"t":2.6,"text":"2.6","tilt":"flat"},{"d":"2017-10-13","z":1843,"t":2.4,"text":"2.4","tilt":"down"},{"d":"2017-05-26","z":2003,"t":2.2,"text":"2.2","tilt":"down"},{"d":"2017-06-05","z":2224,"t":2.1,"text":"2.1","tilt":"down"},{"d":"2017-12-26","z":1975,"t":2.2,"text":"2.2","tilt":"flat"},{"d":"2018-02-01","z":2103,"t":2.1,"text":"2.1","tilt":"up"},{"d":"2018-01-19","z":2304,"t":2,"text":"2","tilt":"flat"},
{"d":"2017-05-28","z":2545,"t":1.9,"text":"1.9","tilt":"up"},{"d":"2017-06-14","z":2677,"t":1.8,"text":"1.8","tilt":"flat"},{"d":"2017-06-16","z":2837,"t":1.7,"text":"1.7","tilt":"up"},{"d":"2017-08-17","z":3038,"t":1.6,"text":"1.6","tilt":"up"},{"d":"2018-02-06","z":2444,"t":1.9,"text":"1.9","tilt":"flat"},{"d":"2018-02-04","z":2593,"t":1.8,"text":"1.8","tilt":"flat"},{"d":"2018-02-10","z":2765,"t":1.7,"text":"1.7","tilt":"flat"},{"d":"2018-02-23","z":3018,"t":1.6,"text":"1.6","tilt":"flat"},{"d":"2017-06-05","z":3387,"t":1.5,"text":"1.5","tilt":"up"},{"d":"2017-06-27","z":3467,"t":1.48,"text":"1.48","tilt":"up"},{"d":"2017-10-11","z":3355,"t":1.5,"text":"1.5","tilt":"up"},{"d":"2017-11-06","z":3459,"t":1.48,"text":"1.48","tilt":"flat"},{"d":"2018-02-04","z":3407,"t":1.5,"text":"1.5","tilt":"up"},{"d":"2018-03-30","z":3487,"t":1.48,"text":"48","tilt":"up"},{"d":"2017-04-10","z":3707,"t":1.45,"text":"1.45","tilt":"down"},{"d":"2017-07-15","z":3788,"t":1.45,"text":"1.45","tilt":"vert"},{"d":"2017-10-28","z":3687,"t":1.45,"text":"1.45","tilt":"down"},{"d":"2018-02-23","z":3928,"t":1.45,"text":"1.45","tilt":"flat"},{"d":"2018-05-22","z":3707,"t":1.45,"text":"1.45","tilt":"up"},{"d":"2017-09-14","z":4169,"t":1.45,"text":"1.45","tilt":"up"},{"d":"2017-05-10","z":4381,"t":1.45,"text":"1.45","tilt":"up"},
{"d":"2018-11-04","z":60,"t":18,"text":"28","tilt":"flat"},{"d":"2019-06-09","z":78,"t":18,"text":"28","tilt":"flat"},{"d":"2018-11-26","z":178,"t":17.5,"text":"16","tilt":"flat"},{"d":"2019-10-14","z":190,"t":17.5,"text":"16","tilt":"flat"},{"d":"2018-11-04","z":279,"t":10,"text":"10","tilt":"flat"},{"d":"2019-08-31","z":339,"t":10,"text":"10","tilt":"flat"},{"d":"2018-10-02","z":339,"t":9,"text":"9","tilt":"flat"},{"d":"2019-07-27","z":371,"t":9,"text":"9","tilt":"flat"},{"d":"2018-09-22","z":447,"t":7.5,"text":"7.5","tilt":"flat"},{"d":"2019-06-16","z":479,"t":7.5,"text":"7.5","tilt":"flat"},{"d":"2018-08-13","z":531,"t":6.5,"text":"6.5","tilt":"flat"},{"d":"2019-05-03","z":599,"t":6.5,"text":"6.5","tilt":"flat"},{"d":"2018-09-08","z":720,"t":5.5,"text":"5.5","tilt":"down"},{"d":"2019-05-20","z":800,"t":5.5,"text":"5.5","tilt":"flat"},{"d":"2018-09-15","z":972,"t":4.5,"text":"4.5","tilt":"down"},{"d":"2019-05-20","z":1060,"t":4.5,"text":"4.5","tilt":"flat"},{"d":"2018-09-24","z":1120,"t":4,"text":"4","tilt":"flat"},{"d":"2019-05-31","z":1181,"t":4,"text":"4","tilt":"down"},{"d":"2018-10-07","z":1221,"t":3.6,"text":"3.6","tilt":"flat"},{"d":"2019-06-16","z":1349,"t":3.6,"text":"3.6","tilt":"down"},{"d":"2018-09-06","z":1333,"t":3.2,"text":"3.2","tilt":"flat"},{"d":"2019-05-31","z":1482,"t":3.2,"text":"3.2","tilt":"down"},
{"d":"2019-02-15","z":1562,"t":2.6,"text":"2.6","tilt":"flat"},{"d":"2019-03-13","z":1562,"t":2.8,"text":"2.8","tilt":"up"},{"d":"2019-02-24","z":1742,"t":2.4,"text":"2.4","tilt":"down"},{"d":"2018-09-11","z":1963,"t":2.2,"text":"2.2","tilt":"flat"},{"d":"2018-09-19","z":2063,"t":2.1,"text":"2.1","tilt":"flat"},{"d":"2018-09-17","z":2203,"t":2,"text":"2","tilt":"flat"},{"d":"2018-10-07","z":2324,"t":1.9,"text":"1.9","tilt":"flat"},{"d":"2019-05-01","z":2043,"t":2.2,"text":"2.2","tilt":"flat"},{"d":"2019-03-27","z":2223,"t":2.1,"text":"2.1","tilt":"down"},{"d":"2019-09-11","z":1622,"t":2.6,"text":"2.6","tilt":"flat"},{"d":"2019-09-29","z":1770,"t":2.4,"text":"2.4","tilt":"down"},{"d":"2019-11-05","z":1963,"t":2.2,"text":"2.2","tilt":"up"},{"d":"2019-11-07","z":1482,"t":2.8,"text":"2.8","tilt":"up"},{"d":"2019-05-07","z":2576,"t":1.9,"text":"1.9","tilt":"flat"},{"d":"2019-04-15","z":2745,"t":1.8,"text":"1.8","tilt":"up"},{"d":"2019-12-01","z":2544,"t":1.9,"text":"1.9","tilt":"down"},{"d":"2019-12-01","z":2704,"t":1.8,"text":"1.8","tilt":"up"},{"d":"2019-11-23","z":2845,"t":1.7,"text":"1.7","tilt":"flat"},{"d":"2019-09-16","z":2263,"t":2,"text":"2","tilt":"flat"},{"d":"2019-09-29","z":2123,"t":2.1,"text":"2.1","tilt":"flat"},
{"d":"2019-02-20","z":3017,"t":1.6,"text":"1.6","tilt":"flat"},{"d":"2018-10-18","z":3286,"t":1.5,"text":"1.5","tilt":"down"},{"d":"2018-11-15","z":3426,"t":1.48,"text":"1.48","tilt":"up"},{"d":"2018-08-09","z":3547,"t":1.48,"text":"1.48","tilt":"flat"},{"d":"2018-06-30","z":3310,"t":1.5,"text":"1.5","tilt":"up"},{"d":"2019-02-04","z":3406,"t":1.5,"text":"1.5","tilt":"flat"},{"d":"2019-05-31","z":3595,"t":1.48,"text":"1.48","tilt":"flat"},{"d":"2019-03-05","z":3747,"t":1.48,"text":"48","tilt":"vert"},{"d":"2018-12-01","z":4288,"t":1.45,"text":"1.45","tilt":"vert"},{"d":"2018-08-17","z":3988,"t":1.45,"text":"1.45","tilt":"vert"},{"d":"2018-10-11","z":3747,"t":1.45,"text":"45","tilt":"down"},{"d":"2018-09-19","z":3988,"t":1.45,"text":"1.45","tilt":"down"},{"d":"2019-05-03","z":4309,"t":1.45,"text":"1.45","tilt":"vert"},{"d":"2019-06-05","z":4148,"t":1.45,"text":"1.45","tilt":"down"},{"d":"2019-08-25","z":4068,"t":1.45,"text":"1.45","tilt":"vert"},{"d":"2019-09-05","z":3506,"t":1.48,"text":"1.46","tilt":"vert"},{"d":"2019-11-16","z":3747,"t":1.48,"text":"1.48","tilt":"flat"},{"d":"2019-12-19","z":4409,"t":1.48,"text":"1.48","tilt":"vert"}
],
"events":[
{"event":"事件二","d":"2017-02-01"},{"event":"事件二","d":"2017-03-23"},{"event":"事件一","d":"2019-07-14"},{"event":"事件一","d":"2019-09-07"},{"event":"事件三","d":"2019-09-25"},{"event":"事件三","d":"2019-11-14"}
],
"eventNames":[
{"event":"事件二","d":"2017-03-04","z":-125},{"event":"事件一","d":"2019-08-01","z":-125},{"event":"事件三","d":"2019-11-12","z":-125}
],
"stars":[
{"d":"2017-01-01","z":0},{"d":"2017-01-01","z":20},{"d":"2017-01-01","z":40},{"d":"2017-01-01","z":60},{"d":"2017-01-01","z":80},{"d":"2017-01-01","z":100},{"d":"2017-01-01","z":120},{"d":"2017-01-01","z":140},{"d":"2017-01-01","z":160},{"d":"2017-01-01","z":180},{"d":"2017-01-01","z":200},{"d":"2017-01-01","z":220},{"d":"2017-01-01","z":240},{"d":"2017-01-01","z":260},{"d":"2017-01-01","z":280},{"d":"2017-01-01","z":300},{"d":"2017-01-01","z":350},{"d":"2017-01-01","z":400},{"d":"2017-01-01","z":480},{"d":"2017-01-01","z":645},{"d":"2017-01-01","z":765},{"d":"2017-01-01","z":905},{"d":"2017-01-01","z":1065},{"d":"2017-01-01","z":1270},{"d":"2017-01-01","z":1455},{"d":"2017-01-01","z":1695},{"d":"2017-01-01","z":1950},{"d":"2017-01-01","z":2215},{"d":"2017-01-01","z":2535},{"d":"2017-01-01","z":2870},{"d":"2017-01-01","z":3225},{"d":"2017-01-01","z":3600},{"d":"2017-01-01","z":3990},{"d":"2017-01-01","z":4415}
],
"colorbar":[
{"key":"b1","lo":1,"hi":2.0625},{"key":"b2","lo":2.0625,"hi":3.125},{"key":"b3","lo":3.125,"hi":4.1875},{"key":"b4","lo":4.1875,"hi":5.25},{"key":"b5","lo":5.25,"hi":6.3125},{"key":"b6","lo":6.3125,"hi":7.375},{"key":"b7","lo":7.375,"hi":8.4375},{"key":"b8","lo":8.4375,"hi":9.5},{"key":"b9","lo":9.5,"hi":10.5625},{"key":"b10","lo":10.5625,"hi":11.625},{"key":"b11","lo":11.625,"hi":12.6875},{"key":"b12","lo":12.6875,"hi":13.75},{"key":"b13","lo":13.75,"hi":14.8125},{"key":"b14","lo":14.8125,"hi":15.875},{"key":"b15","lo":15.875,"hi":16.9375},{"key":"b16","lo":16.9375,"hi":18}
],
"points":[
{"p":"b","z":2600,"w":0.1},{"p":"b","z":2700,"w":0.093},{"p":"b","z":2800,"w":0.093},{"p":"b","z":2900,"w":0.117},{"p":"b","z":3000,"w":0.127},{"p":"b","z":3100,"w":0.113},{"p":"b","z":3200,"w":0.137},{"p":"b","z":3300,"w":0.187},{"p":"b","z":3400,"w":0.19},{"p":"b","z":3500,"w":0.177},{"p":"b","z":3600,"w":0.253},{"p":"b","z":3700,"w":0.397},{"p":"b","z":3800,"w":0.343},{"p":"b","z":3900,"w":0.34},{"p":"b","z":4000,"w":1.087},{"p":"b","z":4100,"w":0.983},{"p":"b","z":4200,"w":0.91},
{"p":"c","z":2600,"w":0.087},{"p":"c","z":2700,"w":0.073},{"p":"c","z":2800,"w":0.073},{"p":"c","z":2900,"w":0.087},{"p":"c","z":3000,"w":0.089},{"p":"c","z":3100,"w":0.081},{"p":"c","z":3200,"w":0.106},{"p":"c","z":3300,"w":0.168},{"p":"c","z":3400,"w":0.173},{"p":"c","z":3500,"w":0.156},{"p":"c","z":3600,"w":0.212},{"p":"c","z":3700,"w":0.346},{"p":"c","z":3800,"w":0.304},{"p":"c","z":3900,"w":0.285},{"p":"c","z":4000,"w":0.813},{"p":"c","z":4100,"w":0.818},{"p":"c","z":4200,"w":0.777},
{"p":"d","z":2600,"w":0.44},{"p":"d","z":2700,"w":0.373},{"p":"d","z":2800,"w":0.348},{"p":"d","z":2900,"w":0.34},{"p":"d","z":3000,"w":0.265},{"p":"d","z":3100,"w":0.166},{"p":"d","z":3200,"w":0.149},{"p":"d","z":3300,"w":0.215},{"p":"d","z":3400,"w":0.2},{"p":"d","z":3500,"w":0.2},{"p":"d","z":3600,"w":0.456},{"p":"d","z":3700,"w":1.326},{"p":"d","z":3800,"w":1.0},{"p":"d","z":3900,"w":0.737},{"p":"d","z":4000,"w":0.886},{"p":"d","z":4100,"w":1.98},{"p":"d","z":4200,"w":2.47},
{"p":"e","z":2600,"w":0.09},{"p":"e","z":2700,"w":0.087},{"p":"e","z":2800,"w":0.093},{"p":"e","z":2900,"w":0.113},{"p":"e","z":3000,"w":0.117},{"p":"e","z":3100,"w":0.107},{"p":"e","z":3200,"w":0.137},{"p":"e","z":3300,"w":0.223},{"p":"e","z":3400,"w":0.24},{"p":"e","z":3500,"w":0.22},{"p":"e","z":3600,"w":0.283},{"p":"e","z":3700,"w":0.383},{"p":"e","z":3800,"w":0.35},{"p":"e","z":3900,"w":0.347},{"p":"e","z":4000,"w":0.97},{"p":"e","z":4100,"w":1.127},{"p":"e","z":4200,"w":0.953}
],
"fits":[
{"p":"b","z":2600,"w":0.043},{"p":"b","z":2800,"w":0.063},{"p":"b","z":3000,"w":0.09},{"p":"b","z":3200,"w":0.123},{"p":"b","z":3400,"w":0.173},{"p":"b","z":3580,"w":0.24},{"p":"b","z":3730,"w":0.323},{"p":"b","z":3880,"w":0.457},{"p":"b","z":4000,"w":0.623},{"p":"b","z":4100,"w":0.79},{"p":"b","z":4200,"w":1.067},
{"p":"c","z":2600,"w":0.034},{"p":"c","z":2800,"w":0.047},{"p":"c","z":3000,"w":0.07},{"p":"c","z":3200,"w":0.098},{"p":"c","z":3400,"w":0.14},{"p":"c","z":3580,"w":0.196},{"p":"c","z":3730,"w":0.265},{"p":"c","z":3880,"w":0.377},{"p":"c","z":4000,"w":0.517},{"p":"c","z":4100,"w":0.656},{"p":"c","z":4200,"w":0.874},
{"p":"d","z":2600,"w":0.033},{"p":"d","z":2800,"w":0.09},{"p":"d","z":3000,"w":0.157},{"p":"d","z":3200,"w":0.249},{"p":"d","z":3400,"w":0.373},{"p":"d","z":3580,"w":0.539},{"p":"d","z":3730,"w":0.746},{"p":"d","z":3880,"w":1.09},{"p":"d","z":4000,"w":1.467},{"p":"d","z":4100,"w":1.84},{"p":"d","z":4200,"w":2.295},
{"p":"e","z":2600,"w":0.037},{"p":"e","z":2800,"w":0.057},{"p":"e","z":3000,"w":0.083},{"p":"e","z":3200,"w":0.117},{"p":"e","z":3400,"w":0.167},{"p":"e","z":3580,"w":0.233},{"p":"e","z":3730,"w":0.317},{"p":"e","z":3880,"w":0.45},{"p":"e","z":4000,"w":0.617},{"p":"e","z":4100,"w":0.783},{"p":"e","z":4200,"w":1.11}
],
"panelNames":[
{"p":"b","w":0.04,"z":2480,"text":"b. 2017~2019年"},{"p":"c","w":0.04,"z":2480,"text":"c. 事件一"},{"p":"d","w":0.1,"z":2480,"text":"d. 事件二"},{"p":"e","w":0.04,"z":2480,"text":"e. 事件三"}
]
},
"spacing":1,
"vconcat":[
{"bounds":"flush","spacing":10,"hconcat":[
{"width":500,"height":374,"view":{"stroke":"#808080","fill":"#16207a"},
"resolve":{"axis":{"x":"independent","y":"independent"}},
"layer":[
{"encoding":{
"x":{"field":"d","type":"temporal","title":"时间/(年/月)","scale":{"type":"utc","domain":[{"year":2017,"month":1,"date":1,"utc":true},{"year":2020,"month":1,"date":1,"utc":true}]},"axis":{"format":"%Y/%m","labelAngle":-45,"labelAlign":"right","labelBaseline":"top","tickSize":-4,"labelPadding":8,"titlePadding":10,"domain":false,"values":[{"year":2017,"month":3,"date":1,"utc":true},{"year":2017,"month":6,"date":1,"utc":true},{"year":2017,"month":9,"date":1,"utc":true},{"year":2017,"month":12,"date":1,"utc":true},{"year":2018,"month":3,"date":1,"utc":true},{"year":2018,"month":6,"date":1,"utc":true},{"year":2018,"month":9,"date":1,"utc":true},{"year":2018,"month":12,"date":1,"utc":true},{"year":2019,"month":3,"date":1,"utc":true},{"year":2019,"month":6,"date":1,"utc":true},{"year":2019,"month":9,"date":1,"utc":true},{"year":2019,"month":12,"date":1,"utc":true}]}},
"y":{"field":"z","type":"quantitative","title":"深度/m","scale":{"domain":[0,4500],"reverse":true,"nice":false,"zero":false},"axis":{"values":[0,500,1000,1500,2000,2500,3000,3500,4000,4500],"labelExpr":"replace(format(datum.value,','),',',' ')","tickSize":0,"domain":false,"labelPadding":7,"titlePadding":4}}
},
"layer":[
{"data":{"name":"bands"},"transform":[{"fold":["b2","b3","b4","b5","b6","b7","b8","b9","b10","b11","b12","b13","b14","b15","b16"],"as":["key","z"]}],"mark":{"type":"area","clip":true,"interpolate":"monotone"},"encoding":{"y2":{"datum":0},"color":{"field":"key","type":"nominal","legend":null,"scale":{"domain":["b1","b2","b3","b4","b5","b6","b7","b8","b9","b10","b11","b12","b13","b14","b15","b16","事件一","事件二","事件三"],"range":["#16207a","#3f5c9e","#627db6","#84a4cd","#a5c6e2","#c0dcf0","#dcecf5","#f0f5dc","#f5f0b0","#f5d690","#f5b47a","#f39662","#e87550","#cb3a36","#a50f15","#78001c","#d9232a","#5f8a4c","#8294d8"]}}}},
{"data":{"name":"events"},"mark":{"type":"rule","strokeDash":[10,5],"strokeWidth":1.3,"opacity":0.85},"encoding":{"y":null,"color":{"field":"event","type":"nominal","legend":null}}},
{"data":{"name":"isotherms"},"transform":[{"fold":["w18","w16","w10","w9","w75","w65","w55","w45","w40","w36","w32","w28","w26","w24","w22","w21","w20","c19","c18","c17","c16"],"as":["key","z"]}],"mark":{"type":"line","color":"#111111","strokeWidth":0.9,"clip":true,"interpolate":"monotone"},"encoding":{"detail":{"field":"key"}}},
{"data":{"name":"deep"},"transform":[{"fold":["c15","c148"],"as":["key","z"]}],"mark":{"type":"line","color":"#111111","strokeWidth":0.9,"clip":true},"encoding":{"detail":{"field":"key"}}},
{"data":{"name":"deepest"},"mark":{"type":"line","color":"#111111","strokeWidth":0.9,"clip":true},"encoding":{"detail":{"field":"seg"}}},
{"data":{"name":"labels"},"mark":{"type":"text","fontSize":12,"strokeWidth":4,"strokeJoin":"round"},"encoding":{"text":{"field":"text"},"angle":{"field":"tilt","type":"nominal","legend":null,"scale":{"type":"ordinal","domain":["flat","up","down","vert"],"range":[0,340,20,80]}},"stroke":{"field":"t","type":"quantitative","legend":null,"scale":{"type":"threshold","domain":[2.0625,3.125,4.1875,5.25,6.3125,7.375,8.4375,9.5,10.5625,11.625,12.6875,13.75,14.8125,15.875,16.9375],"range":["#16207a","#3f5c9e","#627db6","#84a4cd","#a5c6e2","#c0dcf0","#dcecf5","#f0f5dc","#f5f0b0","#f5d690","#f5b47a","#f39662","#e87550","#cb3a36","#a50f15","#78001c"]}}}},
{"data":{"name":"labels"},"mark":{"type":"text","fontSize":12,"color":"#111111"},"encoding":{"text":{"field":"text"},"angle":{"field":"tilt","type":"nominal","legend":null,"scale":{"type":"ordinal","domain":["flat","up","down","vert"],"range":[0,340,20,80]}}}},
{"data":{"name":"eventNames"},"mark":{"type":"text","fontSize":12.5,"color":"#444444"},"encoding":{"text":{"field":"event"}}},
{"data":{"values":[{"d":"2017-04-05","d2":"2017-05-06","z":0,"z2":280}]},"mark":{"type":"rect","color":"#ffffff"},"encoding":{"x2":{"field":"d2"},"y2":{"field":"z2"}}},
{"data":{"values":[{"d":"2017-04-20","z":140,"text":"a"}]},"mark":{"type":"text","fontSize":15,"color":"#111111"},"encoding":{"text":{"field":"text"}}}
]},
{"data":{"name":"stars"},"mark":{"type":"point","shape":"M0,-1L0.29,-0.4L0.95,-0.31L0.48,0.15L0.59,0.81L0,0.5L-0.59,0.81L-0.48,0.15L-0.95,-0.31L-0.29,-0.4Z","filled":true,"fill":"#ffffff","stroke":"#000000","strokeWidth":0.7,"size":45,"opacity":1,"clip":false},"encoding":{
"x":{"field":"d","type":"temporal","scale":{"type":"utc"},"axis":{"orient":"top","labels":false,"title":null,"tickSize":-4,"domain":false,"values":[{"year":2017,"month":3,"date":1,"utc":true},{"year":2017,"month":6,"date":1,"utc":true},{"year":2017,"month":9,"date":1,"utc":true},{"year":2017,"month":12,"date":1,"utc":true},{"year":2018,"month":3,"date":1,"utc":true},{"year":2018,"month":6,"date":1,"utc":true},{"year":2018,"month":9,"date":1,"utc":true},{"year":2018,"month":12,"date":1,"utc":true},{"year":2019,"month":3,"date":1,"utc":true},{"year":2019,"month":6,"date":1,"utc":true},{"year":2019,"month":9,"date":1,"utc":true},{"year":2019,"month":12,"date":1,"utc":true}]}},
"y":{"field":"z","type":"quantitative","scale":{"reverse":true},"axis":{"orient":"right","labels":false,"title":null,"tickSize":-4,"domain":false,"values":[500,1000,1500,2000,2500,3000,3500,4000]}}}}
]},
{"width":16,"height":374,"view":{"stroke":"#808080"},"data":{"name":"colorbar"},"mark":{"type":"rect"},"encoding":{"y":{"field":"lo","type":"quantitative","title":"现场温度/°C","scale":{"domain":[1,18],"nice":false,"zero":false},"axis":{"orient":"right","values":[2,4,6,8,10,12,14,16,18],"tickSize":-3,"domain":false,"labelPadding":8,"titlePadding":24,"titleAngle":270}},"y2":{"field":"hi"},"color":{"field":"key","type":"nominal","legend":null,"scale":{"domain":["b1","b2","b3","b4","b5","b6","b7","b8","b9","b10","b11","b12","b13","b14","b15","b16","事件一","事件二","事件三"],"range":["#16207a","#3f5c9e","#627db6","#84a4cd","#a5c6e2","#c0dcf0","#dcecf5","#f0f5dc","#f5f0b0","#f5d690","#f5b47a","#f39662","#e87550","#cb3a36","#a50f15","#78001c","#d9232a","#5f8a4c","#8294d8"]}}}}
]},
{"bounds":"flush","spacing":27,"hconcat":[
{"width":120,"height":232,
"encoding":{"x":{"field":"w","type":"quantitative","title":null,"scale":{"domain":[0,1.2],"nice":false},"axis":{"values":[0,0.4,0.8,1.2],"format":".1f","tickSize":-3,"labelPadding":7}},"y":{"field":"z","type":"quantitative","title":"深度/m","scale":{"domain":[2400,4500],"reverse":true,"nice":false,"zero":false},"axis":{"values":[2400,2600,2800,3000,3200,3400,3600,3800,4000,4200,4400],"labelExpr":"replace(format(datum.value,','),',',' ')","tickSize":-3,"labelPadding":7,"titlePadding":7}}},
"layer":[
{"data":{"name":"fits"},"transform":[{"filter":"datum.p=='b'"}],"mark":{"type":"line","color":"#000000","strokeWidth":1,"interpolate":"monotone"}},
{"data":{"name":"points"},"transform":[{"filter":"datum.p=='b'"}],"mark":{"type":"point","filled":true,"opacity":1,"size":32,"color":"#000000"}},
{"data":{"name":"panelNames"},"transform":[{"filter":"datum.p=='b'"}],"mark":{"type":"text","align":"left","fontSize":12.5,"color":"#222222"},"encoding":{"text":{"field":"text"}}}
]},
{"width":120,"height":232,
"encoding":{"x":{"field":"w","type":"quantitative","title":null,"scale":{"domain":[0,1.0],"nice":false},"axis":{"values":[0,0.4,0.8],"format":".1f","tickSize":-3,"labelPadding":7}},"y":{"field":"z","type":"quantitative","title":null,"scale":{"domain":[2400,4500],"reverse":true,"nice":false,"zero":false},"axis":{"values":[2400,2600,2800,3000,3200,3400,3600,3800,4000,4200,4400],"labels":false,"tickSize":-3}}},
"layer":[
{"data":{"name":"fits"},"transform":[{"filter":"datum.p=='c'"}],"mark":{"type":"line","color":"#c8141c","strokeWidth":1,"interpolate":"monotone"}},
{"data":{"name":"points"},"transform":[{"filter":"datum.p=='c'"}],"mark":{"type":"point","filled":true,"opacity":1,"size":32,"color":"#c8141c"}},
{"data":{"name":"panelNames"},"transform":[{"filter":"datum.p=='c'"}],"mark":{"type":"text","align":"left","fontSize":12.5,"color":"#222222"},"encoding":{"text":{"field":"text"}}}
]},
{"width":120,"height":232,
"encoding":{"x":{"field":"w","type":"quantitative","title":null,"scale":{"domain":[0,3.0],"nice":false},"axis":{"values":[0,1,2,3],"format":".1f","tickSize":-3,"labelPadding":7}},"y":{"field":"z","type":"quantitative","title":null,"scale":{"domain":[2400,4500],"reverse":true,"nice":false,"zero":false},"axis":{"values":[2400,2600,2800,3000,3200,3400,3600,3800,4000,4200,4400],"labels":false,"tickSize":-3}}},
"layer":[
{"data":{"name":"fits"},"transform":[{"filter":"datum.p=='d'"}],"mark":{"type":"line","color":"#4c7a14","strokeWidth":1,"interpolate":"monotone"}},
{"data":{"name":"points"},"transform":[{"filter":"datum.p=='d'"}],"mark":{"type":"point","filled":true,"opacity":1,"size":32,"color":"#4c7a14"}},
{"data":{"name":"panelNames"},"transform":[{"filter":"datum.p=='d'"}],"mark":{"type":"text","align":"left","fontSize":12.5,"color":"#222222"},"encoding":{"text":{"field":"text"}}},
{"data":{"values":[{"w":-1.65,"z":4760,"text":"w"}]},"mark":{"type":"text","align":"left","fontSize":13,"fontStyle":"italic","color":"#222222"},"encoding":{"text":{"field":"text"}}},
{"data":{"values":[{"w":-1.42,"z":4785,"text":"rms"}]},"mark":{"type":"text","align":"left","fontSize":8,"fontStyle":"italic","color":"#222222"},"encoding":{"text":{"field":"text"}}},
{"data":{"values":[{"w":-1.12,"z":4760,"text":"/(×10"}]},"mark":{"type":"text","align":"left","fontSize":12,"color":"#222222"},"encoding":{"text":{"field":"text"}}},
{"data":{"values":[{"w":-0.42,"z":4725,"text":"−3"}]},"mark":{"type":"text","align":"left","fontSize":8,"color":"#222222"},"encoding":{"text":{"field":"text"}}},
{"data":{"values":[{"w":-0.2,"z":4760,"text":"m/s)"}]},"mark":{"type":"text","align":"left","fontSize":13,"color":"#222222"},"encoding":{"text":{"field":"text"}}}
]},
{"width":120,"height":232,
"encoding":{"x":{"field":"w","type":"quantitative","title":null,"scale":{"domain":[0,1.2],"nice":false},"axis":{"values":[0,0.4,0.8,1.2],"format":".1f","tickSize":-3,"labelPadding":7}},"y":{"field":"z","type":"quantitative","title":null,"scale":{"domain":[2400,4500],"reverse":true,"nice":false,"zero":false},"axis":{"values":[2400,2600,2800,3000,3200,3400,3600,3800,4000,4200,4400],"labels":false,"tickSize":-3}}},
"layer":[
{"data":{"name":"fits"},"transform":[{"filter":"datum.p=='e'"}],"mark":{"type":"line","color":"#4a66bf","strokeWidth":1,"interpolate":"monotone"}},
{"data":{"name":"points"},"transform":[{"filter":"datum.p=='e'"}],"mark":{"type":"point","filled":true,"opacity":1,"size":32,"color":"#4a66bf"}},
{"data":{"name":"panelNames"},"transform":[{"filter":"datum.p=='e'"}],"mark":{"type":"text","align":"left","fontSize":12.5,"color":"#222222"},"encoding":{"text":{"field":"text"}}}
]}
]}
]
}
